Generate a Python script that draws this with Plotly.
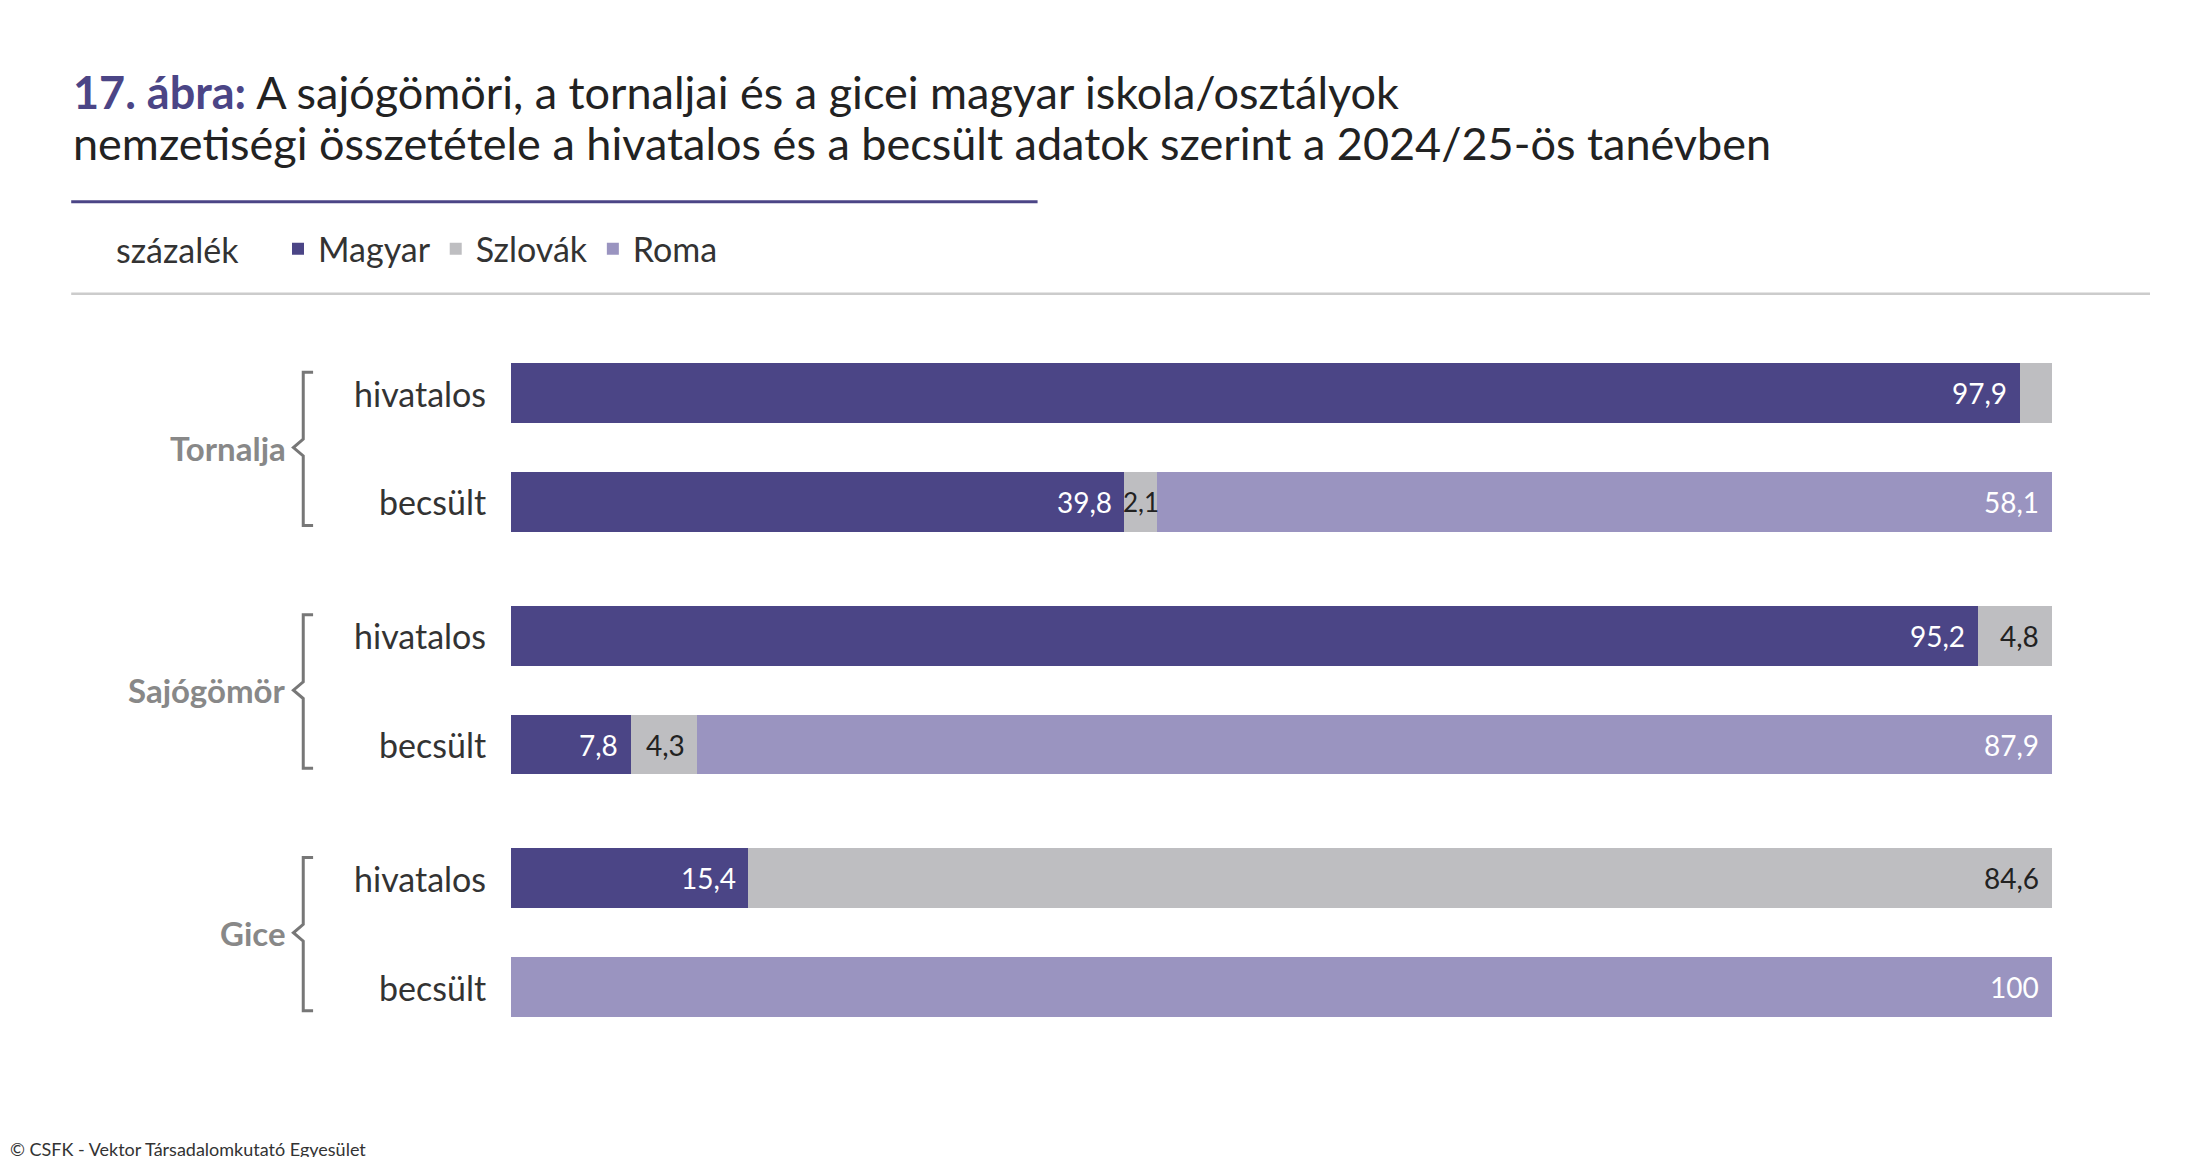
import plotly.graph_objects as go

groups = ["Tornalja", "Sajógömör", "Gice"]
rows = ["hivatalos", "becsült"]
magyar = [97.9, 39.8, 95.2, 7.8, 15.4, 0]
szlovak = [2.1, 2.1, 4.8, 4.3, 84.6, 0]
roma = [0, 58.1, 0, 87.9, 0, 100]
colors = {"Magyar": "#4b4586", "Szlovák": "#bebec1", "Roma": "#9a94c0"}

W, H = 2187, 1157
FONT = "Lato"
ys = [276 + g * 174 + r * 78 for g in range(3) for r in range(2)]

fig = go.Figure()
for name, vals in [("Magyar", magyar), ("Szlovák", szlovak), ("Roma", roma)]:
    fig.add_trace(go.Bar(name=name, x=vals, y=ys, orientation="h", width=43,
                         marker=dict(color=colors[name], line=dict(width=0)),
                         hoverinfo="skip"))

def fmt(v):
    s = f"{v:.1f}".replace(".", ",")
    return "100" if v == 100 else s

ann = []
for i, y in enumerate(ys):
    m, s, r = magyar[i], szlovak[i], roma[i]
    if m > 0:
        ann.append(dict(x=m - 0.7, y=y, text=fmt(m), xanchor="right", font=dict(color="white", size=28)))
    if s > 0:
        if i == 0:
            ann.append(dict(x=m + s + 0.7, y=y, text=fmt(s), xanchor="left", font=dict(color="#222", size=26)))
        elif s < 3:
            ann.append(dict(x=m + s / 2, y=y, text=fmt(s), xanchor="center", font=dict(color="#222", size=26)))
        else:
            ann.append(dict(x=m + s - 0.7, y=y, text=fmt(s), xanchor="right", font=dict(color="#222", size=28)))
    if r > 0:
        ann.append(dict(x=100 - 0.7, y=y, text=fmt(r), xanchor="right", font=dict(color="white", size=28)))
for a in ann:
    a.update(xref="x", yref="y", showarrow=False, yanchor="middle")
    a["font"]["family"] = FONT

shapes = []
for g, gname in enumerate(groups):
    for r, rname in enumerate(rows):
        ann.append(dict(x=0.2195, y=ys[g * 2 + r], xref="paper", yref="y", text=rname, showarrow=False,
                        xanchor="right", yanchor="middle", font=dict(family=FONT, size=34, color="#333")))
    yc = (ys[g * 2] + ys[g * 2 + 1]) / 2
    ann.append(dict(x=0.128, y=yc, xref="paper", yref="y", text="<b>" + gname + "</b>", showarrow=False,
                    xanchor="right", yanchor="middle", font=dict(family=FONT, size=33, color="#888")))
    t, b = ys[g * 2] - 15, ys[g * 2 + 1] + 17
    x0, x1, xp = 0.1335, 0.1395, 0.1305
    path = (f"M {x1} {t} L {x0+0.0015} {t} L {x0+0.0015} {yc-6} L {xp} {yc} L {x0+0.0015} {yc+6} "
            f"L {x0+0.0015} {b} L {x1} {b}")
    shapes.append(dict(type="path", path=path, xref="paper", yref="y", line=dict(color="#777", width=3)))

shapes.append(dict(type="line", xref="paper", yref="paper", x0=45*1.4046/W, x1=733*1.4046/W,
                   y0=1-139*1.394/H, y1=1-139*1.394/H, line=dict(color="#4b4586", width=3)))
shapes.append(dict(type="line", xref="paper", yref="paper", x0=45*1.4046/W, x1=1525*1.4046/W,
                   y0=1-205*1.394/H, y1=1-205*1.394/H, line=dict(color="#cccccc", width=2.5)))

ann.append(dict(x=63/W, y=1-60*1.394/H, xref="paper", yref="paper", showarrow=False, xanchor="left",
                yanchor="middle", align="left",
                text="<span style='color:#4b4586'><b>17. ábra:</b></span> A sajógömöri, a tornaljai és a gicei magyar iskola/osztályok",
                font=dict(family=FONT, size=45, color="#222")))
ann.append(dict(x=63/W, y=1-97*1.394/H, xref="paper", yref="paper", showarrow=False, xanchor="left",
                yanchor="middle",
                text="nemzetiségi összetétele a hivatalos és a becsült adatok szerint a 2024/25-ös tanévben",
                font=dict(family=FONT, size=45, color="#222")))
ann.append(dict(x=106/W, y=1-173*1.394/H, xref="paper", yref="paper", showarrow=False, xanchor="left",
                yanchor="middle", text="százalék", font=dict(family=FONT, size=34, color="#333")))
ann.append(dict(x=0, y=0.003, xref="paper", yref="paper", showarrow=False, xanchor="left",
                yanchor="bottom", text="© CSFK - Vektor Társadalomkutató Egyesület",
                font=dict(family=FONT, size=18, color="#333")))

fig.update_layout(
    width=W, height=H, barmode="stack", plot_bgcolor="white", paper_bgcolor="white",
    margin=dict(l=0, r=0, t=0, b=0), showlegend=True,
    legend=dict(orientation="h", x=270/W, y=1-173*1.394/H, xanchor="left", yanchor="middle",
                font=dict(family=FONT, size=34, color="#333"), itemwidth=30, traceorder="normal",
                itemclick=False),
    xaxis=dict(domain=[503/W, 2044/W], range=[0, 100], visible=False),
    yaxis=dict(domain=[1-1060/H, 1-321/H], range=[760, 230], visible=False),
    annotations=ann, shapes=shapes, bargap=0,
)
fig.write_html("out.html")
